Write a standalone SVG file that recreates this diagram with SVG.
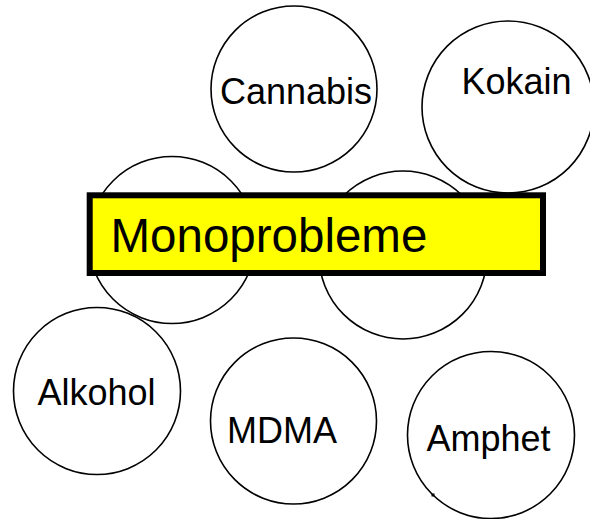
<svg xmlns="http://www.w3.org/2000/svg" width="590" height="519" viewBox="0 0 590 519">
<style>
.c{fill:none;stroke:#000;stroke-width:1.6}
.t{font-family:"Liberation Sans",Arial,sans-serif;font-size:36px;fill:#000}
</style>
<rect width="590" height="519" fill="#fff"/>
<g id="cannabis"><circle class="c" cx="294" cy="89" r="83"/><text class="t" x="220" y="104">Cannabis</text></g>
<g id="kokain"><circle class="c" cx="508" cy="107" r="86"/><text class="t" x="461.5" y="94">Kokain</text></g>
<g id="left-mid"><circle class="c" cx="172" cy="240" r="83.5"/></g>
<g id="right-mid"><circle class="c" cx="403" cy="255" r="84"/></g>
<g id="alkohol"><circle class="c" cx="97" cy="391" r="83.5"/><text class="t" x="37.5" y="405">Alkohol</text></g>
<g id="mdma"><circle class="c" cx="293.5" cy="421" r="83"/><text class="t" x="227" y="443">MDMA</text></g>
<g id="amphet"><circle class="c" cx="491" cy="435" r="83.5"/><text class="t" x="426.5" y="451">Amphet</text><rect x="431.5" y="493.5" width="3" height="3" fill="#000"/></g>
<g id="connectors"></g>
<g id="monoprobleme">
<rect x="89.7" y="195.3" width="453.3" height="77.7" fill="#ff0" stroke="#000" stroke-width="6"/>
<text x="110.5" y="252" font-family="'Liberation Sans',Arial,sans-serif" font-size="47.5px" fill="#000">Monoprobleme</text>
</g>
</svg>
